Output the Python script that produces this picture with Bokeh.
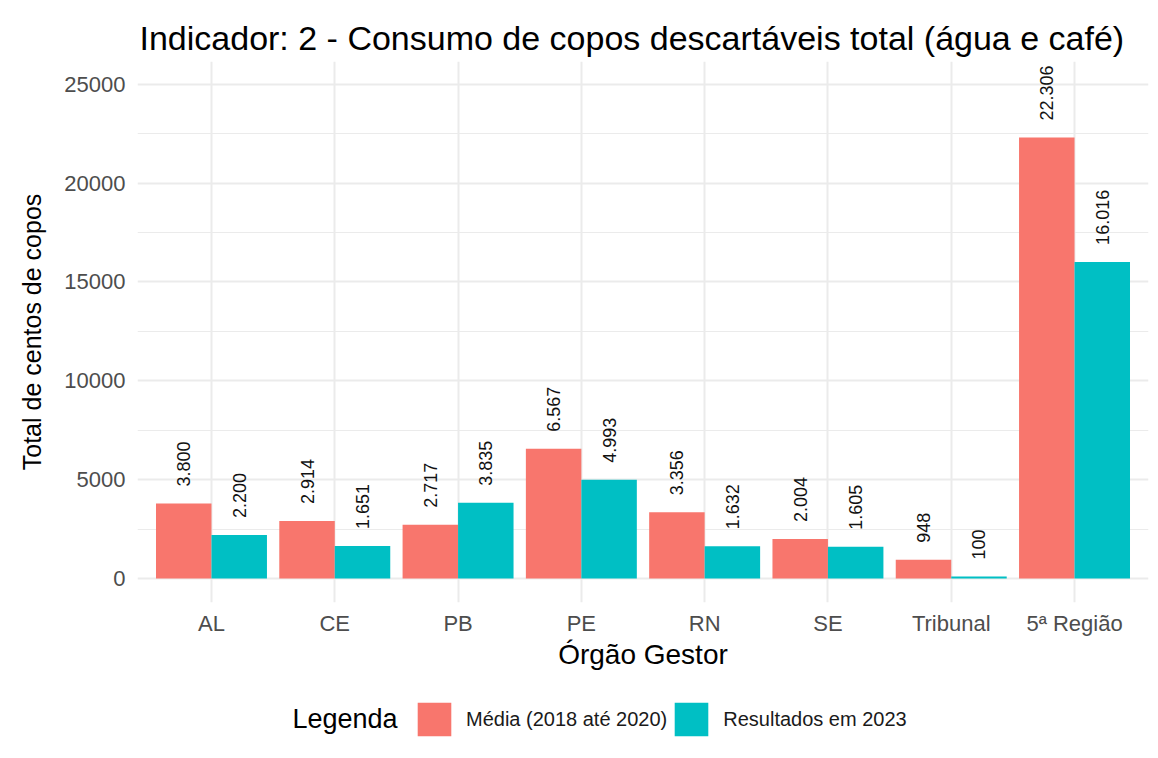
import math
from bokeh.plotting import figure
from bokeh.layouts import column
from bokeh.models import (Range1d, FixedTicker, ColumnDataSource, Legend, LegendItem, Label)
from bokeh.transform import dodge
from bokeh.embed import file_html
from bokeh.resources import INLINE

# ---------------- data ----------------
categories = ["AL", "CE", "PB", "PE", "RN", "SE", "Tribunal", "5ª Região"]
media_2018_2020 = [3800, 2914, 2717, 6567, 3356, 2004, 948, 22306]
resultados_2023 = [2200, 1651, 3835, 4993, 1632, 1605, 100, 16016]
series_names = ["Média (2018 até 2020)", "Resultados em 2023"]
series_colors = ["#F8766D", "#00BFC4"]
y_ticks = [0, 5000, 10000, 15000, 20000, 25000]

FONT = "Liberation Sans"


def fmt_br(v):
    return f"{v:,}".replace(",", ".")


positions = list(range(1, len(categories) + 1))
y_minor = [(a + b) / 2 for a, b in zip(y_ticks[:-1], y_ticks[1:])]

src = ColumnDataSource(dict(
    pos=positions,
    media=media_2018_2020,
    res=resultados_2023,
    media_txt=[fmt_br(v) for v in media_2018_2020],
    res_txt=[fmt_br(v) for v in resultados_2023],
))

W = 1150
H_MAIN = 672
H_LEG = 86
BORDER_L = 137

p = figure(
    width=W, height=H_MAIN,
    output_backend="svg", toolbar_location=None,
    x_range=Range1d(0.4, len(categories) + 0.6),
    y_range=Range1d(-1210, 26150),
    min_border_left=BORDER_L, min_border_right=2,
    min_border_top=61, min_border_bottom=H_MAIN - 605,
    title="Indicador: 2 - Consumo de copos descartáveis total (água e café)",
)
p.outline_line_color = None
p.background_fill_color = "white"
p.border_fill_color = "white"

# title
p.title.text_font = FONT
p.title.text_font_size = "34px"
p.title.text_font_style = "normal"
p.title.text_color = "black"
p.title.align = "left"
p.title.offset = 2
p.title.standoff = 10

# bars
dw = 0.225
r1 = p.vbar(x=dodge("pos", -dw), top="media", width=0.45, bottom=0, source=src,
            fill_color=series_colors[0], line_color=None)
r2 = p.vbar(x=dodge("pos", dw), top="res", width=0.45, bottom=0, source=src,
            fill_color=series_colors[1], line_color=None)

# value labels
for col, off in (("media", -dw), ("res", dw)):
    p.text(x=dodge("pos", off), y=col, text=col + "_txt", source=src,
           angle=math.pi / 2, text_align="left", text_baseline="middle",
           y_offset=-17, text_font_size="18px", text_color="#111111",
           text_font={"value": FONT})

# axes
p.xaxis.ticker = FixedTicker(ticks=positions)
p.xaxis.major_label_overrides = {pos: cat for pos, cat in zip(positions, categories)}
p.yaxis.ticker = FixedTicker(ticks=y_ticks, minor_ticks=y_minor)

for ax in (p.xaxis[0], p.yaxis[0]):
    ax.axis_line_color = None
    ax.major_tick_line_color = None
    ax.minor_tick_line_color = None
    ax.major_tick_out = 0
    ax.major_tick_in = 0
    ax.minor_tick_out = 0
    ax.minor_tick_in = 0
    ax.major_label_text_font = FONT
    ax.major_label_text_font_size = "22px"
    ax.major_label_text_color = "#4d4d4d"
    ax.axis_label_text_font = FONT
    ax.axis_label_text_font_style = "normal"
    ax.axis_label_text_color = "black"

p.yaxis.axis_label = "Total de centos de copos"
p.yaxis.axis_label_text_font_size = "25px"
p.yaxis.major_label_standoff = 12
p.yaxis.axis_label_standoff = 15

p.xaxis.axis_label = "Órgão Gestor"
p.xaxis.axis_label_text_font_size = "28px"
p.xaxis.major_label_standoff = 8
p.xaxis.axis_label_standoff = 0

# grids
p.xgrid.ticker = FixedTicker(ticks=positions)
p.xgrid.grid_line_color = "#ebebeb"
p.xgrid.grid_line_width = 2
p.ygrid.grid_line_color = "#ebebeb"
p.ygrid.grid_line_width = 2
p.ygrid.minor_grid_line_color = "#ebebeb"
p.ygrid.minor_grid_line_width = 1

# ---------------- legend strip ----------------
pl = figure(
    width=W, height=H_LEG,
    output_backend="svg", toolbar_location=None,
    x_range=Range1d(0, 1), y_range=Range1d(0, 1),
    x_axis_type=None, y_axis_type=None,
    min_border_left=BORDER_L, min_border_right=2, min_border_top=0, min_border_bottom=0,
)
pl.outline_line_color = None
pl.grid.visible = False
pl.background_fill_color = "white"
pl.border_fill_color = "white"

# zero-area key renderers (only used for the legend swatches)
k1 = pl.vbar(x=[0], bottom=[0], top=[0], width=0, fill_color=series_colors[0], line_color=None)
k2 = pl.vbar(x=[0], bottom=[0], top=[0], width=0, fill_color=series_colors[1], line_color=None)

legend = Legend(
    items=[LegendItem(label=series_names[0], renderers=[k1]),
           LegendItem(label=series_names[1], renderers=[k2])],
    orientation="horizontal",
    location=(413 - BORDER_L, 18),
    glyph_width=42, glyph_height=42,
    label_standoff=11, spacing=3,
    padding=0, margin=0,
    border_line_color=None, background_fill_alpha=0,
    label_text_font=FONT, label_text_font_size="20px",
    label_text_color="#1a1a1a",
)
pl.add_layout(legend, "center")

legend_title = Label(x=292 - BORDER_L, y=40, x_units="screen", y_units="screen",
                     text="Legenda", text_font=FONT, text_font_size="27px",
                     text_baseline="middle", text_align="left", text_color="black")
pl.add_layout(legend_title)

layout = column(p, pl, spacing=0)

open("out.html", "w").write(file_html(layout, INLINE))
